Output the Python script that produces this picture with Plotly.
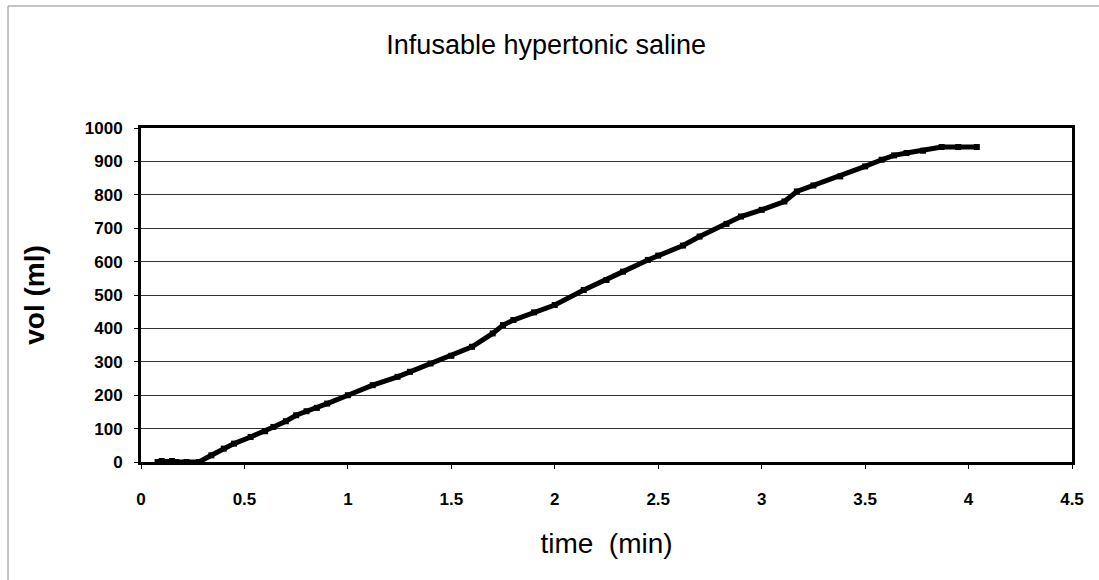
import plotly.graph_objects as go

# Infusion run: elapsed time (min) and cumulative volume delivered (ml)
time_min = [0.08, 0.10, 0.12, 0.15, 0.17, 0.22, 0.28, 0.34, 0.40, 0.45,
            0.53, 0.60, 0.64, 0.70, 0.75, 0.80, 0.85, 0.90, 1.00, 1.12,
            1.24, 1.30, 1.40, 1.50, 1.60, 1.70, 1.75, 1.80, 1.90, 2.00,
            2.14, 2.25, 2.33, 2.45, 2.50, 2.62, 2.70, 2.83, 2.90, 3.00,
            3.11, 3.17, 3.25, 3.38, 3.50, 3.58, 3.64, 3.70, 3.78, 3.87,
            3.95, 4.04]
vol_ml = [0, 3, 0, 3, 0, 0, 0, 20, 40, 55,
          75, 92, 105, 122, 140, 152, 162, 175, 200, 230,
          255, 270, 295, 318, 345, 385, 410, 425, 448, 470,
          515, 545, 570, 605, 618, 648, 675, 713, 735, 755,
          780, 810, 828, 855, 885, 905, 918, 925, 932, 943,
          943, 943]

x_ticks = [0, 0.5, 1, 1.5, 2, 2.5, 3, 3.5, 4, 4.5]
x_tick_labels = ["0", "0.5", "1", "1.5", "2", "2.5", "3", "3.5", "4", "4.5"]
y_ticks = list(range(0, 1001, 100))

FONT = "Liberation Sans, Arial, sans-serif"

fig = go.Figure()
fig.add_trace(go.Scatter(
    x=time_min, y=vol_ml, mode="lines+markers",
    line=dict(color="black", width=5),
    marker=dict(symbol="square", size=6, color="black"),
    showlegend=False, hoverinfo="x+y",
))

fig.update_layout(
    width=1099, height=580,
    margin=dict(l=141, r=27, t=128, b=118),
    paper_bgcolor="white", plot_bgcolor="white",
    font=dict(family=FONT, color="black"),
    title=dict(text="Infusable hypertonic saline", x=0.497, xanchor="center",
               y=1 - 45 / 580, yanchor="middle", yref="container",
               font=dict(size=27, family=FONT, color="black")),
    shapes=[dict(type="rect", xref="paper", yref="paper",
                 x0=(8 - 141) / 931, x1=(1110 - 141) / 931,
                 y0=(462 - 600) / 334, y1=(462 - 6) / 334,
                 line=dict(color="#888888", width=1), layer="below")],
)

fig.update_xaxes(
    range=[0, 4.5], tickvals=x_ticks, ticktext=x_tick_labels,
    showgrid=False, zeroline=False,
    showline=True, linecolor="black", linewidth=3, mirror=True,
    ticks="outside", ticklen=4, tickcolor="black", ticklabelstandoff=16,
    tickfont=dict(size=17, family=FONT, color="black", weight="bold"),
    title=dict(text="time  (min)", standoff=25,
               font=dict(size=28, family=FONT, color="black")),
)
fig.update_yaxes(
    range=[0, 1000], tickvals=y_ticks,
    showgrid=True, gridcolor="#333333", gridwidth=1, zeroline=False,
    showline=True, linecolor="black", linewidth=3, mirror=True,
    ticks="outside", ticklen=4, tickcolor="black", ticklabelstandoff=8,
    tickfont=dict(size=17, family=FONT, color="black", weight="bold"),
    title=dict(text="vol (ml)", standoff=32,
               font=dict(size=28, family=FONT, color="black", weight="bold")),
)

fig.write_html("out.html")
